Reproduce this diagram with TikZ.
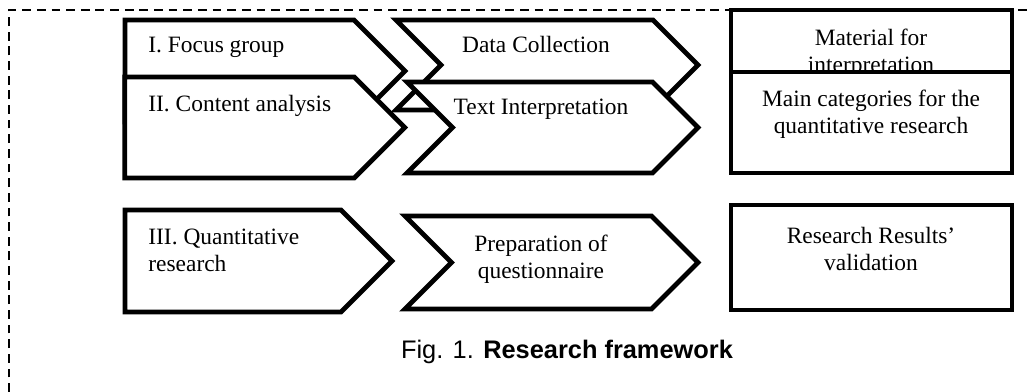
\documentclass[tikz,border=0pt]{standalone}
\usepackage{fontspec}
\setmainfont{Liberation Serif}
\newfontfamily\capfont{Liberation Sans}
\usetikzlibrary{shapes.symbols}
\newlength\pxu
\setlength\pxu{0.018cm}
\begin{document}
\begin{tikzpicture}[
        x=\pxu, y=-\pxu,
        stage/.style={signal, signal to=east, signal pointer angle=90, draw, fill=white, line width=2.5pt, inner sep=0pt},
        chevron/.style={stage, signal from=west},
        result/.style={rectangle, draw, fill=white, line width=2.5pt, inner sep=0pt},
        boxtext/.style={inner sep=0pt, font=\fontsize{12}{13.8}\selectfont},
        figcap/.style={inner sep=0pt, font=\capfont\fontsize{13}{15}\selectfont}
    ]
        \useasboundingbox (0,0) rectangle (1031,392);

        % Dashed frame
        \draw[line width=0.6pt, dash pattern=on 4.5pt off 3pt] (9,392) -- (9,10) -- (1031,10);

        % Qualitative stages (drawn overlapping)
        \node[stage, minimum width=280\pxu, minimum height=102\pxu] (focus) at (239.5,71) {};
        \node[boxtext, anchor=base west] (focustxt) at (148,53) {I. Focus group};
        \node[stage, minimum width=280\pxu, minimum height=101\pxu] (content) at (239.5,127.5) {};
        \node[boxtext, anchor=base west] (contenttxt) at (148,112) {II. Content analysis};

        \node[chevron, minimum width=302\pxu, minimum height=90\pxu] (collect) at (547,65) {};
        \node[boxtext, anchor=base] (collecttxt) at (536,53) {Data Collection};
        \node[chevron, minimum width=291\pxu, minimum height=91\pxu] (interp) at (552.5,127.5) {};
        \node[boxtext, anchor=base] (interptxt) at (541,115) {Text Interpretation};

        \node[result, minimum width=281\pxu, minimum height=95\pxu] (material) at (871.5,57.5) {};
        \node[boxtext, anchor=north, align=center] (materialtxt) at (871,29) {Material for\\interpretation};
        \node[result, minimum width=281\pxu, minimum height=101\pxu] (categ) at (871.5,122.5) {};
        \node[boxtext, anchor=north, align=center] (categtxt) at (871,90) {Main categories for the\\quantitative research};

        % Quantitative stage
        \node[stage, minimum width=267\pxu, minimum height=102\pxu] (quant) at (233,261) {};
        \node[boxtext, anchor=north west, align=left] (quanttxt) at (148,229) {III. Quantitative\\research};
        \node[chevron, minimum width=293\pxu, minimum height=93\pxu] (prep) at (551.5,262.5) {};
        \node[boxtext, anchor=north, align=center] (preptxt) at (541,235) {Preparation of\\questionnaire};
        \node[result, minimum width=281\pxu, minimum height=105\pxu] (valid) at (871.5,257.5) {};
        \node[boxtext, anchor=north, align=center] (validtxt) at (871,227) {Research Results’\\validation};

        % Caption
        \node[figcap, anchor=base] (caption) at (567,358) {Fig. 1. \textbf{Research framework}};
    \end{tikzpicture}
\end{document}
